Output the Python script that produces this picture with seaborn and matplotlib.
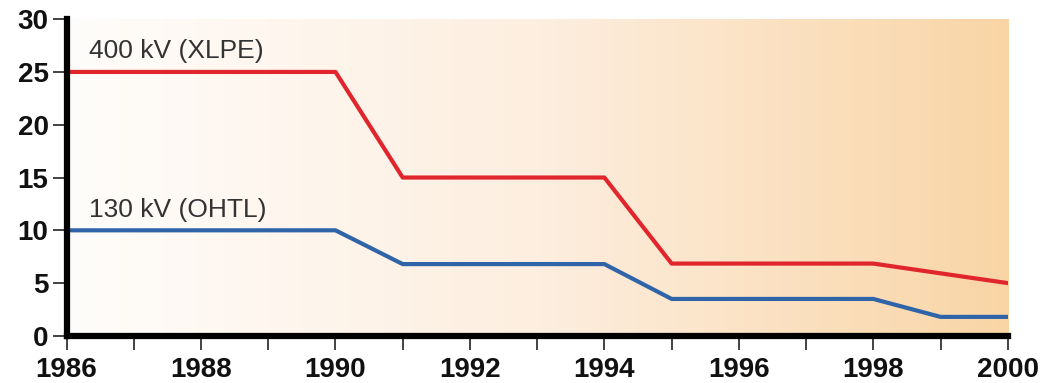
import numpy as np
import pandas as pd
import matplotlib
matplotlib.use("Agg")
import matplotlib.pyplot as plt
from matplotlib.colors import LinearSegmentedColormap
import seaborn as sns

# Data
years_xlpe = [1986, 1990, 1991, 1994, 1995, 1998, 2000]
xlpe_400kv = [25, 25, 15, 15, 6.85, 6.85, 5.0]
years_ohtl = [1986, 1990, 1991, 1994, 1995, 1998, 1999, 2000]
ohtl_130kv = [10, 10, 6.8, 6.8, 3.5, 3.5, 1.8, 1.8]
series_names = ["400 kV (XLPE)", "130 kV (OHTL)"]
x_ticks = [1986, 1988, 1990, 1992, 1994, 1996, 1998, 2000]
y_ticks = [0, 5, 10, 15, 20, 25, 30]

df = pd.concat([
    pd.DataFrame({"year": years_xlpe, "value": xlpe_400kv, "series": series_names[0]}),
    pd.DataFrame({"year": years_ohtl, "value": ohtl_130kv, "series": series_names[1]}),
])

sns.set_style("white")
plt.rcParams['font.family'] = ['Liberation Sans', 'DejaVu Sans']

fig = plt.figure(figsize=(10.4, 3.83), dpi=100)
ax = fig.add_axes([0.064, 0.123, 0.905, 0.827])

# background gradient
cmap = LinearSegmentedColormap.from_list("bg", ["#fffdfb", "#fdeedf", "#f9d5a6"])
grad = np.linspace(0, 1, 256).reshape(1, -1)
ax.imshow(grad, aspect="auto", cmap=cmap, extent=[0, 1, 0, 1],
          transform=ax.transAxes, zorder=0)

sns.lineplot(data=df, x="year", y="value", hue="series",
             palette={series_names[0]: "#e0252c", series_names[1]: "#2f64a8"},
             linewidth=3.0, legend=False, ax=ax, zorder=3)

ax.set_xlim(1986, 2000)
ax.set_ylim(0, 30)
ax.set_xticks(x_ticks)
ax.set_xticks(range(1986, 2001), minor=True)
ax.set_yticks(y_ticks)
ax.set_xlabel("")
ax.set_ylabel("")

for s in ["top", "right"]:
    ax.spines[s].set_visible(False)
for s in ["left", "bottom"]:
    ax.spines[s].set_linewidth(4.5)
    ax.spines[s].set_color("black")
    ax.spines[s].set_zorder(5)

ax.tick_params(axis="both", which="both", direction="out", length=10, width=1.2,
               color="#222222", bottom=True, left=True, top=False, right=False)
ax.tick_params(axis="both", which="major", labelsize=20, labelcolor="#111111")
ax.tick_params(axis="x", pad=5)
ax.tick_params(axis="y", pad=3)
for lbl in ax.get_xticklabels() + ax.get_yticklabels():
    lbl.set_fontweight("bold")

ax.text(1986.34, 27.0, series_names[0], fontsize=19, color="#333333", va="center", ha="left")
ax.text(1986.34, 11.9, series_names[1], fontsize=19, color="#333333", va="center", ha="left")

fig.savefig("out.png", dpi=100)
